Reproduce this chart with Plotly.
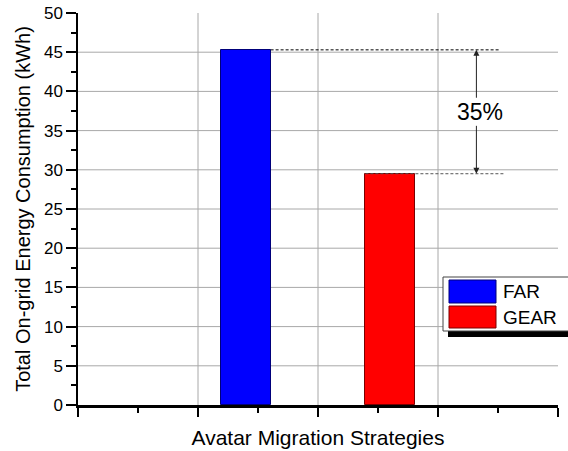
import plotly.graph_objects as go

# ---- data ----
strategies = ["FAR", "GEAR"]
energy_kwh = [45.3, 29.5]
bar_pos = [1.4, 2.6]
bar_colors = ["#0000ff", "#ff0000"]
bar_edges = ["#00007a", "#7a0000"]
y_tick_vals = [0, 5, 10, 15, 20, 25, 30, 35, 40, 45, 50]
y_tick_text = ["0", "5", "10", "15", "20", "25", "30", "35", "40", "45", "50"]
x_tick_vals = [0, 1, 2, 3, 4]
x_minor_vals = [0.5, 1.5, 2.5, 3.5]
reduction_label = "35%"

FONT = "Liberation Sans, Arial, sans-serif"
GRID = "#a8a8a8"

fig = go.Figure()
for name, xp, val, col, edge in zip(strategies, bar_pos, energy_kwh, bar_colors, bar_edges):
    fig.add_trace(go.Bar(
        x=[xp], y=[val], name=name, width=0.41,
        marker=dict(color=col, line=dict(color=edge, width=1)),
        showlegend=False,
    ))

# dashed reference lines at bar tops
arrow_x = 3.32
fig.add_trace(go.Scatter(
    x=[bar_pos[0] + 0.205, 3.52], y=[energy_kwh[0]] * 2, mode="lines",
    line=dict(color="black", width=1, dash="3px,2px"), showlegend=False, hoverinfo="skip"))
fig.add_trace(go.Scatter(
    x=[bar_pos[1] - 0.205, 3.55], y=[energy_kwh[1]] * 2, mode="lines",
    line=dict(color="#555555", width=1, dash="3px,2px"), showlegend=False, hoverinfo="skip"))

mid = (energy_kwh[0] + energy_kwh[1]) / 2
annotations = [
    dict(x=arrow_x, y=energy_kwh[0], ax=arrow_x, ay=mid + 1.6, xref="x", yref="y",
         axref="x", ayref="y", text="", showarrow=True, arrowhead=2, arrowsize=1.2,
         arrowwidth=1, arrowcolor="#222222"),
    dict(x=arrow_x, y=energy_kwh[1], ax=arrow_x, ay=mid - 1.6, xref="x", yref="y",
         axref="x", ayref="y", text="", showarrow=True, arrowhead=2, arrowsize=1.2,
         arrowwidth=1, arrowcolor="#222222"),
    dict(x=arrow_x + 0.03, y=mid, xref="x", yref="y", text=reduction_label, showarrow=False,
         font=dict(family=FONT, size=23, color="black")),
]

# gridlines (inner tick positions only, as in the reference)
shapes = []
for v in y_tick_vals[1:-1]:
    shapes.append(dict(type="line", xref="paper", yref="y", x0=0, x1=1, y0=v, y1=v,
                       line=dict(color=GRID, width=1), layer="below"))
for v in x_tick_vals[1:-1]:
    shapes.append(dict(type="line", xref="x", yref="paper", x0=v, x1=v, y0=0, y1=1,
                       line=dict(color=GRID, width=1), layer="below"))


# manual legend (paper coords relative to plot area, plot area at px 78..558 x 13..405)
def px_x(p):
    return (p - 78) / 480.0


def px_y(p):
    return (405 - p) / 392.0


shapes += [
    dict(type="rect", xref="paper", yref="paper", x0=px_x(448), x1=px_x(580),
         y0=px_y(337), y1=px_y(331), fillcolor="black", line=dict(width=0), layer="above"),
    dict(type="rect", xref="paper", yref="paper", x0=px_x(443), x1=px_x(580),
         y0=px_y(331), y1=px_y(277), fillcolor="white", line=dict(color="#444444", width=1),
         layer="above"),
]
sw_rows = [(280, 303), (306, 328)]
for (t, b), col, edge, name in zip(sw_rows, bar_colors, bar_edges, strategies):
    shapes.append(dict(type="rect", xref="paper", yref="paper", x0=px_x(449), x1=px_x(496),
                       y0=px_y(b), y1=px_y(t), fillcolor=col, line=dict(color=edge, width=1),
                       layer="above"))
    annotations.append(dict(x=px_x(501), y=px_y((t + b) / 2), xref="paper", yref="paper",
                            text=name, showarrow=False, xanchor="left", yanchor="middle",
                            font=dict(family=FONT, size=19, color="black")))

fig.update_layout(
    width=568, height=451,
    margin=dict(l=78, r=10, t=13, b=46),
    paper_bgcolor="white", plot_bgcolor="white",
    font=dict(family=FONT, color="black"),
    bargap=0,
    annotations=annotations,
    shapes=shapes,
    xaxis=dict(
        range=[0, 4], tickvals=x_tick_vals, showticklabels=False,
        ticks="outside", ticklen=9, tickwidth=1.5, tickcolor="black",
        minor=dict(tickvals=x_minor_vals, ticks="outside", ticklen=5,
                   tickwidth=1.5, tickcolor="black", showgrid=False),
        showline=True, linewidth=2.5, linecolor="black",
        showgrid=False, zeroline=False,
        title=dict(text="Avatar Migration Strategies", standoff=15,
                   font=dict(family=FONT, size=21, color="black")),
        automargin=False,
    ),
    yaxis=dict(
        range=[0, 50], tickvals=y_tick_vals, ticktext=y_tick_text,
        ticks="outside", ticklen=10, tickwidth=1.5, tickcolor="black",
        minor=dict(dtick=2.5, tick0=0, ticks="outside", ticklen=5,
                   tickwidth=1.5, tickcolor="black", showgrid=False),
        showline=True, linewidth=1.5, linecolor="black",
        showgrid=False, zeroline=False, ticklabeloverflow="allow",
        tickfont=dict(family=FONT, size=17, color="black"),
        title=dict(text="Total On-grid Energy Consumption (kWh)", standoff=8,
                   font=dict(family=FONT, size=20, color="black")),
        automargin=False,
    ),
)

# remove the default 8px body margin so the figure sits at the window's top-left
fig.write_html("out.html",
               config={"displayModeBar": False},
               post_script="document.body.style.margin='0';document.body.style.overflow='hidden';")
